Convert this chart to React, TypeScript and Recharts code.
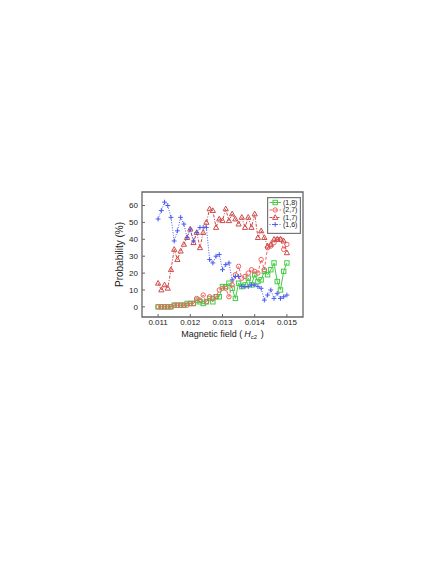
import React from "react";
import { LineChart, Line, XAxis, YAxis, ReferenceArea, Legend } from "recharts";

// magnetic field (units of Hc2)
const fields = [
  0.011, 0.0111, 0.0112, 0.0113, 0.0114, 0.0115, 0.0116, 0.0117, 0.0118, 0.0119,
  0.012, 0.0121, 0.0122, 0.0123, 0.0124, 0.0125, 0.0126, 0.0127, 0.0128, 0.0129,
  0.013, 0.0131, 0.0132, 0.0133, 0.0134, 0.0135, 0.0136, 0.0137, 0.0138, 0.0139,
  0.014, 0.0141, 0.0142, 0.0143, 0.0144, 0.0145, 0.0146, 0.0147, 0.0148, 0.0149,
  0.015,
];

// probability (%) of each vortex state
const state18 = [0, 0, 0, 0, 0, 1, 1, 1, 1, 2, 2, 2, 4, 3, 2, 3, 5, 3, 6, 6, 12, 12, 14, 11, 5, 14, 12, 13, 17, 13, 19, 15, 16, 21, 19, 22, 26, 15, 10, 21, 26];
const state27 = [0, 0, 0, 0, 0, 1, 1, 1, 1, 1, 2, 2, 5, 4, 7, 3, 6, 5, 6, 10, 11, 11, 6, 13, 19, 24, 17, 18, 20, 22, 21, 20, 28, 22, 35, 36, 38, 40, 40, 34, 37];
const state17 = [14, 10, 13, 11, 22, 34, 28, 33, 37, 41, 46, 38, 44, 35, 44, 50, 58, 57, 47, 52, 51, 58, 51, 55, 52, 49, 53, 47, 53, 47, 55, 41, 45, 41, 36, 37, 40, 40, 40, 39, 32];
const state16 = [52, 57, 62, 60, 53, 39, 45, 53, 49, 41, 46, 39, 44, 47, 47, 47, 28, 26, 30, 31, 22, 25, 26, 16, 18, 18, 12, 12, 12, 13, 13, 12, 11, 4, 7, 10, 5, 8, 5, 6, 7];

const xTicks = [0.011, 0.012, 0.013, 0.014, 0.015];
const yTicks = [0, 10, 20, 30, 40, 50, 60];

const data = fields.map((f, i) => ({
  field: f,
  s18: state18[i],
  s27: state27[i],
  s17: state17[i],
  s16: state16[i],
}));

const font = "'Liberation Sans', Arial, sans-serif";

type Shape = "square" | "circle" | "triangle" | "plus";

const series: { key: string; name: string; color: string; dash?: string; shape: Shape }[] = [
  { key: "s18", name: "(1,8)", color: "#44cc44", shape: "square" },
  { key: "s27", name: "(2,7)", color: "#f06262", dash: "3 2", shape: "circle" },
  { key: "s17", name: "(1,7)", color: "#cf4a4a", dash: "3 1.5 1 1.5", shape: "triangle" },
  { key: "s16", name: "(1,6)", color: "#4a5cf0", dash: "1 1.5", shape: "plus" },
];

function marker(shape: Shape, cx: number, cy: number, color: string, key?: any) {
  if (cx == null || cy == null) return <g key={key} />;
  switch (shape) {
    case "square":
      return <rect key={key} x={cx - 2.2} y={cy - 2.2} width={4.4} height={4.4} fill="none" stroke={color} strokeWidth={1} />;
    case "circle":
      return <circle key={key} cx={cx} cy={cy} r={2.2} fill="none" stroke={color} strokeWidth={1} />;
    case "triangle":
      return (
        <path key={key} d={`M${cx},${cy - 2.8}L${cx + 2.6},${cy + 1.9}L${cx - 2.6},${cy + 1.9}Z`} fill="none" stroke={color} strokeWidth={1} />
      );
    default:
      return <path key={key} d={`M${cx - 2.4},${cy}H${cx + 2.4}M${cx},${cy - 2.4}V${cy + 2.4}`} stroke={color} strokeWidth={1} />;
  }
}

function LegendBox() {
  const rows = [5.5, 13, 20.5, 27.5];
  return (
    <svg width={34} height={37} style={{ display: "block" }}>
      <rect x={0.6} y={0.6} width={32.8} height={35.8} fill="#fff" stroke="#777" strokeWidth={1.2} />
      {series.map((s, i) => (
        <g key={s.key}>
          <line x1={2.5} x2={14} y1={rows[i]} y2={rows[i]} stroke={s.color} strokeDasharray={s.dash} strokeWidth={1} />
          {marker(s.shape, 8.2, rows[i], s.color)}
          <text x={16} y={rows[i]} dy="0.35em" fontSize={7} fontFamily={font} fill="#222">
            {s.name}
          </text>
        </g>
      ))}
    </svg>
  );
}

function FieldLabel(props: any) {
  const vb = props.viewBox || {};
  const cx = vb.x + vb.width / 2;
  const y = vb.y + 20;
  return (
    <text x={cx} y={y} textAnchor="middle" fontSize={9} fontFamily={font} fill="#222">
      Magnetic field (<tspan dx={2} fontStyle="italic">H</tspan>
      <tspan fontSize={6} dy={2}>c2</tspan>
      <tspan dy={-2} dx={1}> )</tspan>
    </text>
  );
}

export default function App() {
  return (
    <div style={{ width: 420, height: 360, fontFamily: font }}>
      <LineChart width={420} height={360} data={data} margin={{ top: 184, right: 125, left: 104, bottom: 26 }}>
        <XAxis
          dataKey="field"
          type="number"
          domain={[0.0105, 0.0155]}
          ticks={xTicks}
          tickFormatter={(v: number) => v.toFixed(3)}
          tickSize={-3}
          tickMargin={5}
          height={25}
          axisLine={false}
          tickLine={{ stroke: "#666" }}
          tick={{ fontSize: 8, fill: "#222", fontFamily: font }}
          label={<FieldLabel />}
        />
        <XAxis xAxisId="top" orientation="top" type="number" domain={[0.0105, 0.0155]} ticks={xTicks} height={0} tick={false} tickSize={-3} axisLine={false} tickLine={{ stroke: "#666" }} />
        <YAxis
          type="number"
          domain={[-6, 68]}
          ticks={yTicks}
          width={30}
          tickSize={-3}
          tickMargin={7}
          axisLine={false}
          tickLine={{ stroke: "#666" }}
          tick={{ fontSize: 8, fill: "#222", fontFamily: font }}
          label={{ value: "Probability (%)", angle: -90, position: "center", dx: -8, style: { fontSize: 10, fill: "#222", fontFamily: font } }}
        />
        <YAxis yAxisId="right" orientation="right" type="number" domain={[-6, 68]} ticks={yTicks} width={0} tick={false} tickSize={-3} axisLine={false} tickLine={{ stroke: "#666" }} />
        <ReferenceArea x1={0.0105} x2={0.0155} y1={-6} y2={68} fill="none" stroke="#666" strokeWidth={1.3} />
        {series.map((s) => (
          <Line
            key={s.key}
            dataKey={s.key}
            name={s.name}
            stroke={s.color}
            strokeWidth={1}
            strokeDasharray={s.dash}
            isAnimationActive={false}
            dot={(p: any) => marker(s.shape, p.cx, p.cy, s.color, p.index)}
            activeDot={false}
          />
        ))}
        <Legend layout="vertical" align="center" verticalAlign="middle" wrapperStyle={{ top: 189, left: 259, width: 34, height: 37 }} content={() => <LegendBox />} />
      </LineChart>
    </div>
  );
}
